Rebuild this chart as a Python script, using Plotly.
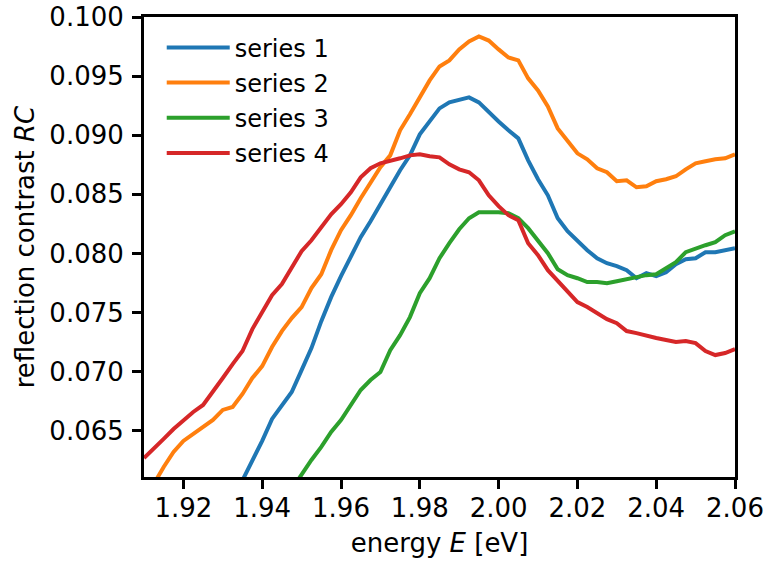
import plotly.graph_objects as go

# Photon energy grid (eV), 2.5 meV steps
energy = [round(1.91 + 0.0025 * k, 4) for k in range(61)]

series_1 = [None, None, None, None, None, None, None, None,
            0.0575, 0.05916, 0.06077, 0.06255, 0.06415, 0.06601, 0.06719, 0.06829,
            0.07014, 0.07200, 0.07428, 0.07631, 0.07808, 0.07977, 0.08138, 0.08273,
            0.08425, 0.08560, 0.08704, 0.08830, 0.09008, 0.09117, 0.09227, 0.09278,
            0.09295, 0.09320, 0.09278, 0.09194, 0.09117, 0.09042, 0.08974, 0.08788,
            0.08628, 0.08492, 0.08298, 0.08188, 0.08104, 0.08028, 0.07960, 0.07918,
            0.07893, 0.07859, 0.07791, 0.07834, 0.07808, 0.07842, 0.07910, 0.07952,
            0.07960, 0.08011, 0.08011, 0.08028, 0.08045]

series_2 = [0.05925, 0.06052, 0.06195, 0.06322, 0.06415, 0.06474, 0.06525, 0.06592,
            0.06677, 0.06702, 0.06812, 0.06947, 0.07048, 0.07209, 0.07344, 0.07454,
            0.07547, 0.07707, 0.07825, 0.08028, 0.08197, 0.08324, 0.08467, 0.08602,
            0.08729, 0.08830, 0.09042, 0.09177, 0.09320, 0.09464, 0.09582, 0.09633,
            0.09726, 0.09793, 0.09835, 0.09801, 0.09726, 0.09658, 0.09633, 0.09481,
            0.09379, 0.09244, 0.09058, 0.08957, 0.08847, 0.08797, 0.08721, 0.08687,
            0.08611, 0.08619, 0.08560, 0.08568, 0.08611, 0.08628, 0.08653, 0.08712,
            0.08763, 0.08780, 0.08797, 0.08805, 0.08839]

series_3 = [None, None, None, None, None, None, None, None,
            None, None, None, None, None, None, 0.05883, 0.06009,
            0.06128, 0.06254, 0.06364, 0.06491, 0.06592, 0.06727, 0.06846, 0.06930,
            0.06998, 0.07183, 0.07310, 0.07462, 0.07665, 0.07791, 0.07960, 0.08087,
            0.08205, 0.08298, 0.08349, 0.08349, 0.08349, 0.08340, 0.08298, 0.08214,
            0.08112, 0.08003, 0.07867, 0.07817, 0.07791, 0.07758, 0.07758, 0.07749,
            0.07766, 0.07783, 0.07800, 0.07817, 0.07825, 0.07876, 0.07927, 0.08011,
            0.08045, 0.08070, 0.08096, 0.08155, 0.08188]

series_4 = [0.06271, 0.06347, 0.06432, 0.06516, 0.06592, 0.06660, 0.06719, 0.06829,
            0.06947, 0.07065, 0.07175, 0.07361, 0.07513, 0.07648, 0.07741, 0.07884,
            0.08020, 0.08112, 0.08222, 0.08332, 0.08417, 0.08518, 0.08644, 0.08721,
            0.08763, 0.08780, 0.08805, 0.08830, 0.08839, 0.08822, 0.08813, 0.08754,
            0.08712, 0.08687, 0.08619, 0.08492, 0.08400, 0.08324, 0.08282, 0.08087,
            0.07986, 0.07859, 0.07766, 0.07682, 0.07589, 0.07547, 0.07496, 0.07445,
            0.07411, 0.07344, 0.07327, 0.07302, 0.07285, 0.07268, 0.07251, 0.07259,
            0.07242, 0.07175, 0.07141, 0.07158, 0.07192]

names = ["series 1", "series 2", "series 3", "series 4"]
colors = ["#1f77b4", "#ff7f0e", "#2ca02c", "#d62728"]

x_ticks = [1.92, 1.94, 1.96, 1.98, 2.00, 2.02, 2.04, 2.06]
y_ticks = [0.065, 0.070, 0.075, 0.080, 0.085, 0.090, 0.095, 0.100]

FONT = "DejaVu Sans"

fig = go.Figure()
for i, (name, ys, col) in enumerate(zip(names, [series_1, series_2, series_3, series_4], colors)):
    fig.add_trace(go.Scatter(
        x=energy, y=ys, mode="lines", name=name,
        line=dict(color=col, width=4),
        legendgroup=f"g{i}",
    ))

axis_common = dict(
    showline=True, linecolor="black", linewidth=3, mirror=True,
    ticks="outside", ticklen=9, tickwidth=2.5, tickcolor="black",
    showgrid=False, zeroline=False, automargin=False,
    tickfont=dict(family=FONT, size=26, color="black"),
)

fig.update_xaxes(
    range=[1.91, 2.06], tickvals=x_ticks, tickformat=".2f",
    title=dict(text="energy <i>E</i> [eV]", font=dict(family=FONT, size=26, color="black"), standoff=12),
    ticklabelstandoff=-3,
    **axis_common,
)
fig.update_yaxes(
    range=[0.0611, 0.100], tickvals=y_ticks, tickformat=".3f",
    title=dict(text="reflection contrast <i>RC</i>", font=dict(family=FONT, size=26, color="black"), standoff=8),
    ticklabelstandoff=3,
    **axis_common,
)

fig.update_layout(
    width=766, height=561,
    margin=dict(l=144, r=31, t=17, b=84),
    paper_bgcolor="white", plot_bgcolor="white",
    font=dict(family=FONT, color="black"),
    legend=dict(
        x=0.03, y=0.982, xanchor="left", yanchor="top",
        bgcolor="rgba(0,0,0,0)", borderwidth=0,
        font=dict(family=FONT, size=24, color="black"),
        itemwidth=63, tracegroupgap=1, traceorder="grouped",
    ),
)

fig.write_html("out.html")
